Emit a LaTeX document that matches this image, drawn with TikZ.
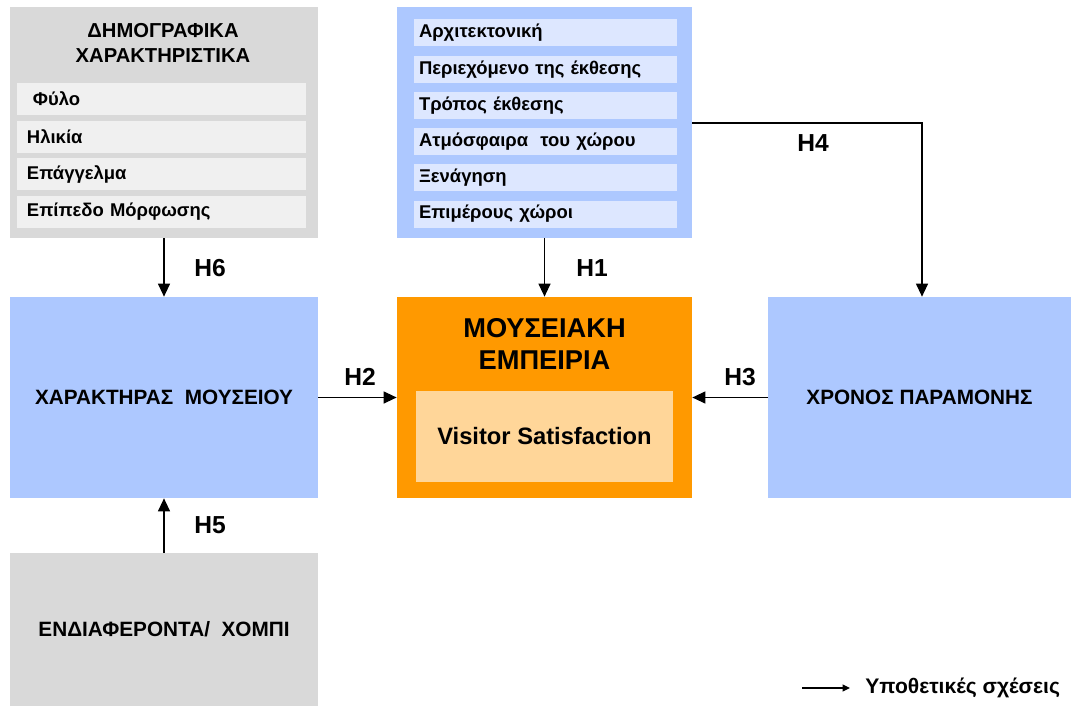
\documentclass[tikz,border=0pt]{standalone}
\usepackage{fontspec}
\setmainfont{Liberation Sans}
\usepackage{xcolor}
\usepackage{tikz}
\usetikzlibrary{arrows.meta,positioning}

\definecolor{boxgray}{HTML}{D9D9D9}
\definecolor{rowgray}{HTML}{F0F0F0}
\definecolor{boxblue}{HTML}{ADC8FF}
\definecolor{rowblue}{HTML}{DDE7FF}
\definecolor{boxorange}{HTML}{FF9900}
\definecolor{rowpeach}{HTML}{FFD699}

\begin{document}
\begin{tikzpicture}[
    font=\bfseries,
    block/.style={minimum width=6.16cm, minimum height=4.02cm, inner sep=0pt, align=center, font=\fontsize{11.8}{14}\selectfont\bfseries},
    grayrow/.style={fill=rowgray, text width=5.38cm, minimum height=0.64cm, inner xsep=0.2cm, inner ysep=0pt, align=left, font=\fontsize{10.5}{12}\selectfont\bfseries},
    bluerow/.style={fill=rowblue, text width=5.06cm, minimum height=0.54cm, inner xsep=0.1cm, inner ysep=0pt, align=left, font=\fontsize{10.5}{12}\selectfont\bfseries},
    hyp/.style={font=\fontsize{14}{16}\selectfont\bfseries},
    arrow/.style={-{Triangle[length=2.6mm,width=2.4mm]}, line width=0.7pt}
]
\useasboundingbox (0,0) rectangle (21.42,-14.12);

% demographic box
\node[block, fill=boxgray, minimum height=4.62cm] (demo) at (3.28,-2.45) {};
\node[font=\fontsize{11.5}{14}\selectfont\bfseries, align=center] (demotitle) at (3.26,-0.86) {ΔΗΜΟΓΡΑΦΙΚΑ\\ΧΑΡΑΚΤΗΡΙΣΤΙΚΑ};
\node[grayrow] (dm0) at (3.23,-1.98) {\hspace{0.12cm}Φύλο};
\node[grayrow, below=0.1cm of dm0] (dm1) {Ηλικία};
\node[grayrow, below=0.1cm of dm1] (dm2) {Επάγγελμα};
\node[grayrow, below=0.1cm of dm2] (dm3) {Επίπεδο Μόρφωσης};

% exhibition box
\node[block, fill=boxblue, minimum width=5.9cm, minimum height=4.62cm] (exhib) at (10.89,-2.45) {};
\node[bluerow] (ex0) at (10.91,-0.66) {Αρχιτεκτονική};
\node[bluerow, below=0.17cm of ex0] (ex1) {Περιεχόμενο της έκθεσης};
\node[bluerow, below=0.17cm of ex1] (ex2) {Τρόπος έκθεσης};
\node[bluerow, below=0.17cm of ex2] (ex3) {Ατμόσφαιρα\ \ του χώρου};
\node[bluerow, below=0.17cm of ex3] (ex4) {Ξενάγηση};
\node[bluerow, below=0.17cm of ex4] (ex5) {Επιμέρους χώροι};

% museum experience
\node[block, fill=boxorange, minimum width=5.9cm] (exper) at (10.89,-7.95) {};
\node[font=\fontsize{15.5}{18}\selectfont\bfseries, align=center] (expertitle) at (10.89,-6.88) {ΜΟΥΣΕΙΑΚΗ\\ΕΜΠΕΙΡΙΑ};
\node[fill=rowpeach, minimum width=5.14cm, minimum height=1.82cm, font=\fontsize{13.5}{16}\selectfont\bfseries] (satisf) at (10.89,-8.73) {Visitor Satisfaction};

% side blocks
\node[block, fill=boxblue] (charac) at (3.28,-7.95) {ΧΑΡΑΚΤΗΡΑΣ\ \ ΜΟΥΣΕΙΟΥ};
\node[block, fill=boxblue, minimum width=6.06cm] (stay) at (18.39,-7.95) {ΧΡΟΝΟΣ ΠΑΡΑΜΟΝΗΣ};
\node[block, fill=boxgray, minimum height=3.06cm] (hobby) at (3.28,-12.59) {ΕΝΔΙΑΦΕΡΟΝΤΑ/\ \ ΧΟΜΠΙ};

% hypotheses
\draw[arrow] (demo.south) -- (charac.north);
\node[hyp] (h6) at (4.2,-5.36) {H6};
\draw[arrow] (exhib.south) -- (exper.north);
\node[hyp] (h1) at (11.84,-5.36) {H1};
\draw[arrow] (charac.east) -- (exper.west);
\node[hyp] (h2) at (7.2,-7.54) {H2};
\draw[arrow] (stay.west) -- (exper.east);
\node[hyp] (h3) at (14.8,-7.54) {H3};
\draw[arrow] ([yshift=-0.01cm]exhib.east) -| ([xshift=0.05cm]stay.north);
\node[hyp] (h4) at (16.26,-2.86) {H4};
\draw[arrow] (hobby.north) -- (charac.south);
\node[hyp] (h5) at (4.2,-10.5) {H5};

% legend
\node[anchor=west, inner sep=0pt, font=\fontsize{12}{14}\selectfont\bfseries] (legend) at (17.3,-13.76) {Υποθετικές σχέσεις};
\coordinate (legstart) at (16.04,-13.76);
\draw[-{Triangle[length=1.5mm,width=1.4mm]}, line width=0.7pt] (legstart) -- ([xshift=-0.3cm]legend.west);
\end{tikzpicture}
\end{document}
